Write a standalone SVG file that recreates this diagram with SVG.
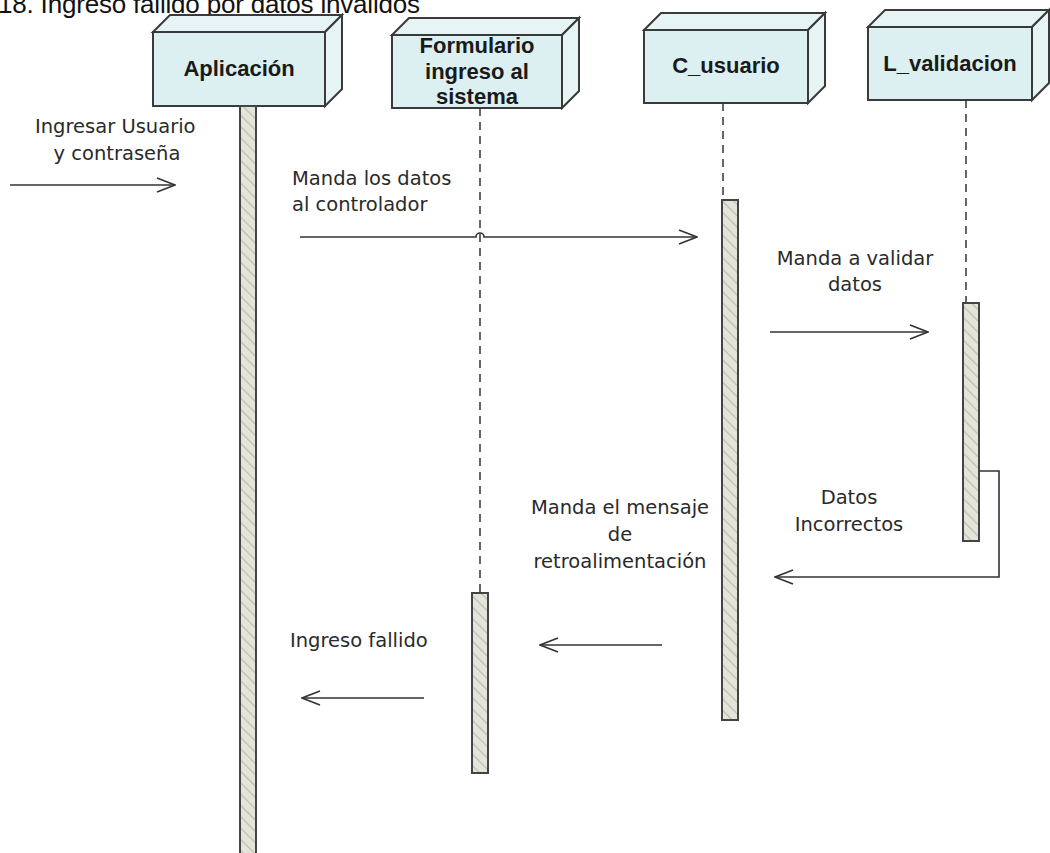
<svg xmlns="http://www.w3.org/2000/svg" width="1050" height="853" viewBox="0 0 1050 853">
<style>
.face{fill:#dcf0f2;stroke:#3a3a3a;stroke-width:2}
.side{fill:#e6f4f5;stroke:#3a3a3a;stroke-width:2}
.lbl{font-family:"Liberation Sans",Arial,sans-serif;font-weight:bold;font-size:22px;fill:#1a1a1a;text-anchor:middle}
.msg{font-family:"DejaVu Sans",Verdana,sans-serif;font-size:19.5px;fill:#2a2a2a}
.life{stroke:#333;stroke-width:1.5;stroke-dasharray:8,6;fill:none}
.bar{fill:url(#hatch);stroke:#444;stroke-width:2}
.arr{stroke:#333;stroke-width:1.6;fill:none}
</style>
<defs>
<pattern id="hatch" patternUnits="userSpaceOnUse" width="8" height="8" patternTransform="rotate(-45)">
<rect width="8" height="8" fill="#e4e4da"/>
<line x1="0" y1="0" x2="0" y2="8" stroke="#bdbdb0" stroke-width="2.5"/>
</pattern>
<marker id="open" markerWidth="20" markerHeight="16" refX="19" refY="8" orient="auto" markerUnits="userSpaceOnUse">
<path d="M1,1 L19,8 L1,15" fill="none" stroke="#333" stroke-width="1.6"/>
</marker>
</defs>
<rect width="1050" height="853" fill="#fff"/>
<text x="-2" y="13" font-family="Liberation Sans,Arial,sans-serif" font-size="26" textLength="422" fill="#111">18. Ingreso fallido por datos inválidos</text>

<g id="aplicacion">
<polygon class="side" points="153,32 170,15 342,15 325,32"/>
<polygon class="side" points="325,32 342,15 342,89 325,106"/>
<rect class="face" x="153" y="32" width="172" height="74"/>
<text class="lbl" x="239" y="76">Aplicación</text>
<rect class="bar" x="240" y="106" width="16" height="760"/>
</g>

<g id="formulario">
<polygon class="side" points="392,35 409,18 579,18 562,35"/>
<polygon class="side" points="562,35 579,18 579,91 562,108"/>
<rect class="face" x="392" y="35" width="170" height="73"/>
<text class="lbl" x="477" y="53">Formulario</text>
<text class="lbl" x="477" y="79">ingreso al</text>
<text class="lbl" x="477" y="104">sistema</text>
<line class="life" x1="480" y1="108" x2="480" y2="593"/>
<rect class="bar" x="472" y="593" width="16" height="180"/>
</g>

<g id="c_usuario">
<polygon class="side" points="644,30 661,13 825,13 808,30"/>
<polygon class="side" points="808,30 825,13 825,86 808,103"/>
<rect class="face" x="644" y="30" width="164" height="73"/>
<text class="lbl" x="726" y="73">C_usuario</text>
<line class="life" x1="723" y1="103" x2="723" y2="200"/>
<rect class="bar" x="722" y="200" width="16" height="520"/>
</g>

<g id="l_validacion">
<polygon class="side" points="868,27 885,10 1049,10 1032,27"/>
<polygon class="side" points="1032,27 1049,10 1049,83 1032,100"/>
<rect class="face" x="868" y="27" width="164" height="73"/>
<text class="lbl" x="950" y="71">L_validacion</text>
<line class="life" x1="966" y1="100" x2="966" y2="303"/>
<rect class="bar" x="963" y="303" width="16" height="238"/>
</g>

<g id="connectors">
<line class="arr" x1="10" y1="185" x2="175" y2="185" marker-end="url(#open)"/>
<path class="arr" d="M300,237 H476 A4,4 0 0 1 484,237 H697" marker-end="url(#open)"/>
<line class="arr" x1="770" y1="332" x2="928" y2="332" marker-end="url(#open)"/>
<polyline class="arr" points="979,471 999,471 999,577 775,577" marker-end="url(#open)"/>
<line class="arr" x1="662" y1="645" x2="540" y2="645" marker-end="url(#open)"/>
<line class="arr" x1="424" y1="698" x2="302" y2="698" marker-end="url(#open)"/>
</g>

<g id="labels">
<text class="msg" x="35" y="133">Ingresar Usuario</text>
<text class="msg" x="117" y="160" text-anchor="middle">y contraseña</text>
<text class="msg" x="292" y="185">Manda los datos</text>
<text class="msg" x="292" y="211">al controlador</text>
<text class="msg" x="855" y="265" text-anchor="middle">Manda a validar</text>
<text class="msg" x="855" y="291" text-anchor="middle">datos</text>
<text class="msg" x="849" y="504" text-anchor="middle">Datos</text>
<text class="msg" x="849" y="531" text-anchor="middle">Incorrectos</text>
<text class="msg" x="620" y="514" text-anchor="middle">Manda el mensaje</text>
<text class="msg" x="620" y="541" text-anchor="middle">de</text>
<text class="msg" x="620" y="568" text-anchor="middle">retroalimentación</text>
<text class="msg" x="290" y="647">Ingreso fallido</text>
</g>
</svg>
